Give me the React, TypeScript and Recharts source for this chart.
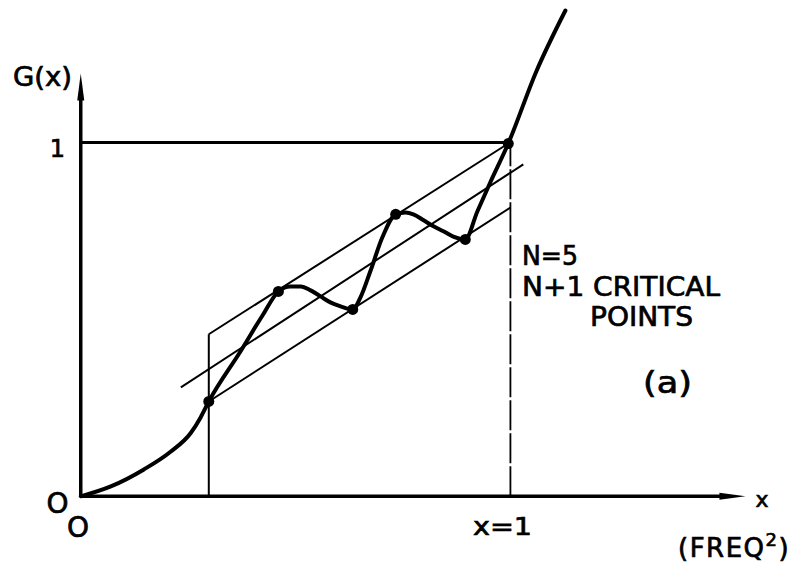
import React from 'react';
import { ComposedChart, Line, Scatter, XAxis, YAxis, ReferenceDot, Customized } from 'recharts';

// G(x) curve (x in units of x=1, y in units of G=1)
const gCurve = [
  { x: 0, y: 0 }, { x: 0.07, y: 0.028 }, { x: 0.147, y: 0.076 }, { x: 0.209, y: 0.126 },
  { x: 0.256, y: 0.179 }, { x: 0.279, y: 0.223 }, { x: 0.298, y: 0.268 },
  { x: 0.372, y: 0.41 }, { x: 0.423, y: 0.511 }, { x: 0.46, y: 0.579 },
  { x: 0.488, y: 0.593 }, { x: 0.512, y: 0.593 }, { x: 0.535, y: 0.582 }, { x: 0.558, y: 0.565 },
  { x: 0.581, y: 0.548 }, { x: 0.605, y: 0.537 }, { x: 0.633, y: 0.528 },
  { x: 0.651, y: 0.562 }, { x: 0.674, y: 0.636 }, { x: 0.702, y: 0.732 }, { x: 0.733, y: 0.797 },
  { x: 0.756, y: 0.802 }, { x: 0.774, y: 0.797 }, { x: 0.798, y: 0.78 }, { x: 0.821, y: 0.763 },
  { x: 0.844, y: 0.749 }, { x: 0.867, y: 0.734 }, { x: 0.895, y: 0.726 },
  { x: 0.923, y: 0.805 }, { x: 0.953, y: 0.887 }, { x: 0.995, y: 0.997 },
  { x: 1.06, y: 1.2 }, { x: 1.128, y: 1.373 },
];

const criticalPoints = [
  { x: 0.298, y: 0.268 }, { x: 0.46, y: 0.579 }, { x: 0.633, y: 0.528 },
  { x: 0.733, y: 0.797 }, { x: 0.895, y: 0.726 }, { x: 0.995, y: 0.997 },
];

const upperBand = [{ x: 0.298, y: 0.458 }, { x: 0.995, y: 0.997 }];
const middleBand = [{ x: 0.233, y: 0.308 }, { x: 1.03, y: 0.938 }];
const lowerBand = [{ x: 0.298, y: 0.268 }, { x: 1.0, y: 0.816 }];
const leftEdge = [{ x: 0.298, y: 0 }, { x: 0.298, y: 0.458 }];
const unitLevel = [{ x: 0, y: 1 }, { x: 1, y: 1 }];
const unitFreq = [{ x: 1, y: 0 }, { x: 1, y: 1 }];
const xAxisLine = [{ x: 0, y: 0 }, { x: 1.49, y: 0 }];
const yAxisLine = [{ x: 0, y: 0 }, { x: 0, y: 1.13 }];
const xArrowTip = { x: 1.547, y: 0 };
const yArrowTip = { x: 0, y: 1.195 };

const FONT = '"DejaVu Sans", "Liberation Sans", sans-serif';

function Labels() {
  return (
    <g fontFamily={FONT} fill="#000" stroke="#000" strokeWidth={0.7}>
      <text x={5} y={78} fontSize={26} textLength={59} lengthAdjust="spacingAndGlyphs">G(x)</text>
      <text x={49.5} y={149} fontSize={24} textAnchor="middle">1</text>
      <text x={49.5} y={505} fontSize={28} textAnchor="middle">O</text>
      <text x={70} y={529} fontSize={28} textAnchor="middle">O</text>
      <text x={465} y={527} fontSize={24} textLength={59} lengthAdjust="spacingAndGlyphs">x=1</text>
      <text x={754} y={499} fontSize={22} textAnchor="middle">x</text>
      <text x={670} y={549} fontSize={26} letterSpacing={1.5}>
        (FREQ<tspan dy={-11} fontSize={18}>2</tspan><tspan dy={11}>)</tspan>
      </text>
      <text x={514} y={257} fontSize={26} textLength={56} lengthAdjust="spacingAndGlyphs">N=5</text>
      <text x={514} y={288} fontSize={26} textLength={198} lengthAdjust="spacingAndGlyphs">N+1 CRITICAL</text>
      <text x={582} y={318} fontSize={26} textLength={103} lengthAdjust="spacingAndGlyphs">POINTS</text>
      <text x={635} y={385} fontSize={30} textLength={49} lengthAdjust="spacingAndGlyphs">(a)</text>
    </g>
  );
}

const XArrow = (p: any) => (
  <polygon points={`${p.cx},${p.cy} ${p.cx - 26},${p.cy - 3.5} ${p.cx - 26},${p.cy + 3.5}`} fill="#000" />
);
const YArrow = (p: any) => (
  <polygon points={`${p.cx},${p.cy} ${p.cx - 3.5},${p.cy + 27} ${p.cx + 3.5},${p.cy + 27}`} fill="#000" />
);
const Dot = (p: any) => <circle cx={p.cx} cy={p.cy} r={5.5} fill="#000" />;

const thin = { stroke: '#000', strokeWidth: 2, dot: false, activeDot: false, isAnimationActive: false, type: 'linear' as const };

export default function App() {
  return (
    <ComposedChart width={794} height={555} margin={{ top: 0, right: 8, bottom: 3, left: 4 }}>
      <XAxis type="number" dataKey="x" domain={[-0.16, 1.66]} hide allowDataOverflow />
      <YAxis type="number" dataKey="y" domain={[-0.18, 1.38]} hide allowDataOverflow />
      <Line data={xAxisLine} dataKey="y" {...thin} strokeWidth={3.5} />
      <Line data={yAxisLine} dataKey="y" {...thin} strokeWidth={3.5} />
      <Line data={unitLevel} dataKey="y" {...thin} strokeWidth={3} />
      <Line data={unitFreq} dataKey="y" {...thin} strokeWidth={1.8} strokeDasharray="30 3" />
      <Line data={leftEdge} dataKey="y" {...thin} />
      <Line data={upperBand} dataKey="y" {...thin} />
      <Line data={middleBand} dataKey="y" {...thin} />
      <Line data={lowerBand} dataKey="y" {...thin} />
      <Line data={gCurve} dataKey="y" stroke="#000" strokeWidth={4} dot={false} activeDot={false}
        type="monotone" strokeLinecap="round" strokeLinejoin="round" isAnimationActive={false} />
      <Scatter data={criticalPoints} dataKey="y" shape={Dot} isAnimationActive={false} />
      <ReferenceDot x={xArrowTip.x} y={xArrowTip.y} r={0} shape={XArrow} />
      <ReferenceDot x={yArrowTip.x} y={yArrowTip.y} r={0} shape={YArrow} />
      <Customized component={Labels} />
    </ComposedChart>
  );
}
